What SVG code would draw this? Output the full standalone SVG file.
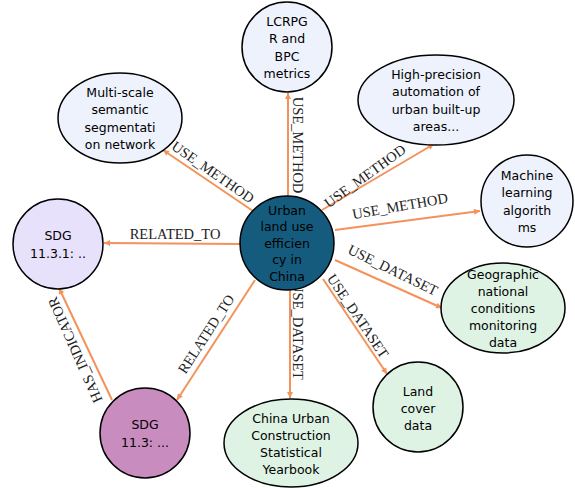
<svg xmlns="http://www.w3.org/2000/svg" width="575" height="488" viewBox="0 0 575 488">
<defs>
<marker id="arr" viewBox="0 0 10 10" refX="10" refY="5" markerWidth="7" markerHeight="6" markerUnits="userSpaceOnUse" orient="auto">
<path d="M0,0 L10,5 L0,10 z" fill="#f4925b"/>
</marker>
<style>
.node{stroke:#000;stroke-width:1.5}
.blue{fill:#eef2fc}
.lav{fill:#e8e1fb}
.mag{fill:#c98cbf}
.green{fill:#def3e4}
.center{fill:#145b7e}
.nt{font-family:"DejaVu Sans","Noto Sans",sans-serif;font-size:12.5px;fill:#000;text-anchor:middle;dominant-baseline:central}
.edge{stroke:#f4925b;stroke-width:2;fill:none;marker-end:url(#arr)}
.el{font-family:"Liberation Serif","Times New Roman",serif;font-size:14.5px;fill:#222;text-anchor:middle;dominant-baseline:central}
</style>
</defs>
<g id="connectors">
<line class="edge" x1="253" y1="211" x2="163" y2="150"/>
<line class="edge" x1="288" y1="196" x2="288" y2="93"/>
<line class="edge" x1="322" y1="210" x2="434" y2="144"/>
<line class="edge" x1="335" y1="230" x2="480" y2="211"/>
<line class="edge" x1="240" y1="244" x2="104" y2="243"/>
<line class="edge" x1="255" y1="280" x2="177" y2="400"/>
<line class="edge" x1="290" y1="290" x2="290" y2="398"/>
<line class="edge" x1="323" y1="279" x2="387" y2="374"/>
<line class="edge" x1="335" y1="260" x2="442" y2="308"/>
<line class="edge" x1="112" y1="400" x2="59" y2="288"/>
<text class="el" transform="translate(213,172) rotate(35)">USE_METHOD</text>
<text class="el" transform="translate(298,145) rotate(90)">USE_METHOD</text>
<text class="el" transform="translate(365,176) rotate(-36)">USE_METHOD</text>
<text class="el" transform="translate(400,206) rotate(-10)">USE_METHOD</text>
<text class="el" transform="translate(175,234)">RELATED_TO</text>
<text class="el" transform="translate(206,334) rotate(-57)">RELATED_TO</text>
<text class="el" transform="translate(298,331) rotate(90)">USE_DATASET</text>
<text class="el" transform="translate(358,316) rotate(56)">USE_DATASET</text>
<text class="el" transform="translate(393,270) rotate(26)">USE_DATASET</text>
<text class="el" transform="translate(75,350) rotate(-114)">HAS_INDICATOR</text>
</g>
<g id="node-lcrpg">
<circle class="node blue" cx="287" cy="47" r="45"/>
<text class="nt" x="287" y="21">LCRPG</text>
<text class="nt" x="287" y="38.5">R and</text>
<text class="nt" x="287" y="56">BPC</text>
<text class="nt" x="287" y="73.5">metrics</text>
</g>
<g id="node-multiscale">
<ellipse class="node blue" cx="120" cy="118" rx="62" ry="45"/>
<text class="nt" x="120" y="92">Multi-scale</text>
<text class="nt" x="120" y="109.5">semantic</text>
<text class="nt" x="120" y="127">segmentati</text>
<text class="nt" x="120" y="144.5">on network</text>
</g>
<g id="node-highprecision">
<ellipse class="node blue" cx="436" cy="100" rx="78" ry="45"/>
<text class="nt" x="436" y="74">High-precision</text>
<text class="nt" x="436" y="91.5">automation of</text>
<text class="nt" x="436" y="109">urban built-up</text>
<text class="nt" x="436" y="126.5">areas...</text>
</g>
<g id="node-ml">
<circle class="node blue" cx="527" cy="201" r="46"/>
<text class="nt" x="527" y="175">Machine</text>
<text class="nt" x="527" y="192.5">learning</text>
<text class="nt" x="527" y="210">algorith</text>
<text class="nt" x="527" y="227.5">ms</text>
</g>
<g id="node-center">
<circle class="node center" cx="287" cy="243" r="47"/>
<text class="nt" x="287" y="210">Urban</text>
<text class="nt" x="287" y="226.5">land use</text>
<text class="nt" x="287" y="243">efficien</text>
<text class="nt" x="287" y="259.5">cy in</text>
<text class="nt" x="287" y="276">China</text>
</g>
<g id="node-sdg1131">
<circle class="node lav" cx="58" cy="244" r="45"/>
<text class="nt" x="58" y="235">SDG</text>
<text class="nt" x="58" y="253">11.3.1: ..</text>
</g>
<g id="node-sdg113">
<circle class="node mag" cx="145" cy="433" r="45"/>
<text class="nt" x="145" y="424">SDG</text>
<text class="nt" x="145" y="442">11.3: ...</text>
</g>
<g id="node-yearbook">
<ellipse class="node green" cx="291" cy="443" rx="67" ry="44"/>
<text class="nt" x="291" y="418">China Urban</text>
<text class="nt" x="291" y="435">Construction</text>
<text class="nt" x="291" y="452">Statistical</text>
<text class="nt" x="291" y="469">Yearbook</text>
</g>
<g id="node-geographic">
<ellipse class="node green" cx="503" cy="308" rx="62" ry="45"/>
<text class="nt" x="503" y="274">Geographic</text>
<text class="nt" x="503" y="291">national</text>
<text class="nt" x="503" y="308">conditions</text>
<text class="nt" x="503" y="325">monitoring</text>
<text class="nt" x="503" y="342">data</text>
</g>
<g id="node-landcover">
<circle class="node green" cx="418" cy="407" r="45"/>
<text class="nt" x="418" y="391">Land</text>
<text class="nt" x="418" y="408">cover</text>
<text class="nt" x="418" y="425">data</text>
</g>
</svg>
